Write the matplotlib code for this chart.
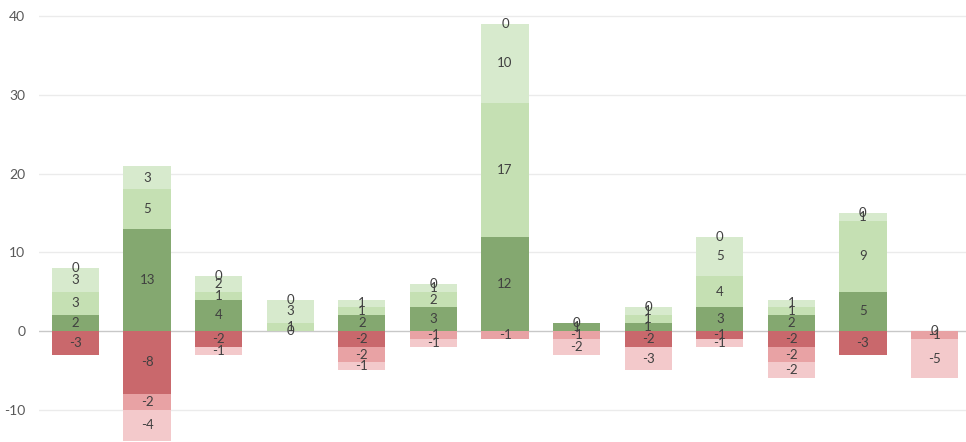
import matplotlib
matplotlib.use("Agg")
import matplotlib.pyplot as plt
import numpy as np

# Gains (stacked upward) and losses (stacked downward) for 13 groups
gain_1 = [2, 13, 4, 0, 2, 3, 12, 1, 1, 3, 2, 5, 0]
gain_2 = [3, 5, 1, 1, 1, 2, 17, 0, 1, 4, 1, 9, 0]
gain_3 = [3, 3, 2, 3, 1, 1, 10, 0, 1, 5, 1, 1, 0]
loss_1 = [-3, -8, -2, 0, -2, 0, 0, 0, -2, -1, -2, -3, 0]
loss_2 = [0, -2, 0, 0, -2, -1, -1, -1, 0, 0, -2, 0, -1]
loss_3 = [0, -4, -1, 0, -1, -1, 0, -2, -3, -1, -2, 0, -5]

yticks = [-10, 0, 10, 20, 30, 40]

series = [
    (gain_1, "#84a870"),
    (gain_2, "#c5e0b3"),
    (gain_3, "#d7eacd"),
    (loss_1, "#c9686c"),
    (loss_2, "#e8a2a4"),
    (loss_3, "#f3c9cb"),
]

plt.rcParams["font.family"] = ["Lato", "DejaVu Sans"]

fig = plt.figure(figsize=(9.66, 4.42), dpi=100)
ax = fig.add_axes([0.0404, 0.0, 0.9596, 1.0])

n = len(gain_1)
x = np.arange(n)
width = 0.66
pos_base = np.zeros(n)
neg_base = np.zeros(n)
placed = set()

for values, color in series:
    v = np.array(values, dtype=float)
    bottom = np.where(v >= 0, pos_base, neg_base)
    ax.bar(x, v, width=width, bottom=bottom, color=color, zorder=2,
           linewidth=0)
    for xi, b, val in zip(x, bottom, v):
        y = b + val / 2
        key = (int(xi), round(y, 3), int(val))
        if key in placed:
            continue  # identical zero labels sit on the same spot
        placed.add(key)
        ax.text(xi, y, f"{int(val)}", ha="center", va="center",
                fontsize=9.5, color="#404040", zorder=3)
    pos_base = np.where(v >= 0, pos_base + v, pos_base)
    neg_base = np.where(v < 0, neg_base + v, neg_base)

ax.set_xlim(-0.51, n - 1 + 0.44)
ax.set_ylim(-14.1, 42.05)
ax.set_yticks(yticks)
ax.set_yticklabels([str(t) for t in yticks])
ax.set_xticks([])

for t in yticks:
    if t == 0:
        ax.axhline(t, color="#c8c8c8", linewidth=1.0, zorder=1)
    else:
        ax.axhline(t, color="#ebebeb", linewidth=1.0, zorder=1)

for side in ["top", "right", "bottom", "left"]:
    ax.spines[side].set_visible(False)
ax.tick_params(axis="y", length=0, pad=10, labelsize=10, labelcolor="#595959")

fig.savefig("out.png", dpi=100, facecolor="white")
